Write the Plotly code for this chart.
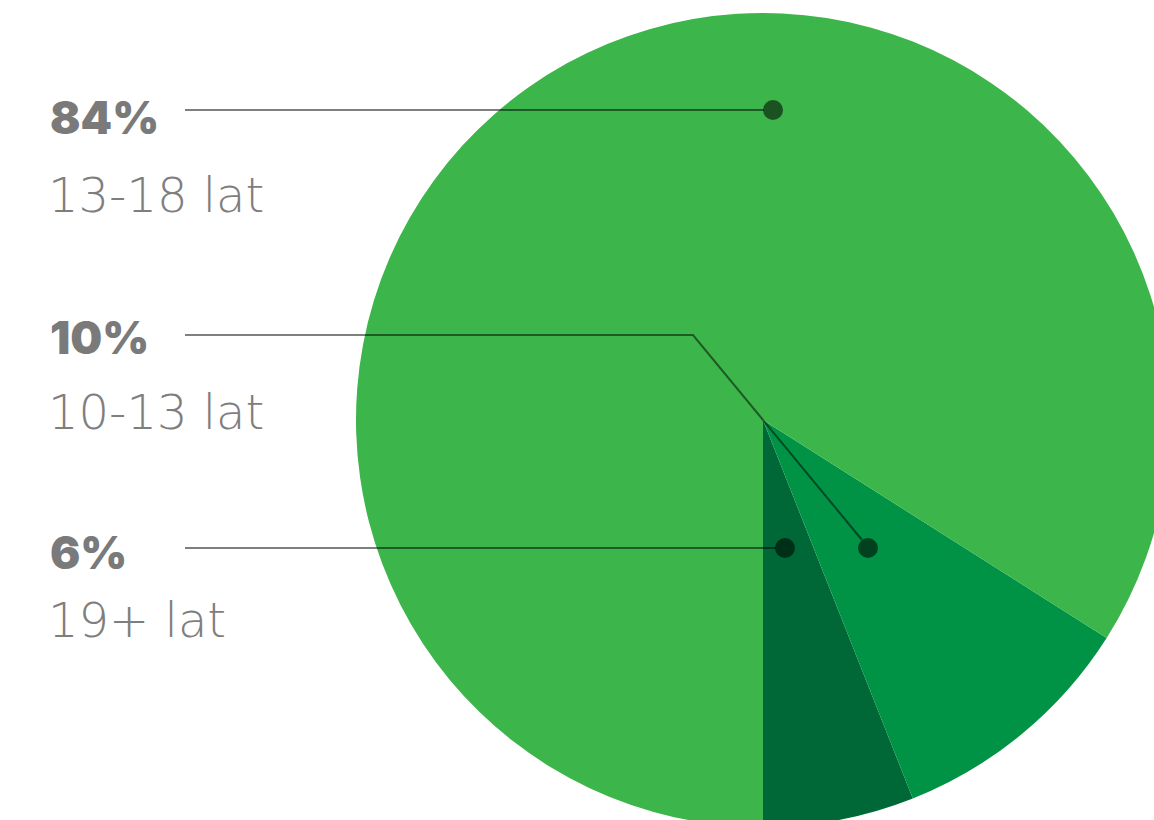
import plotly.graph_objects as go

# Age groups, listed in the order they are drawn (counterclockwise from 6 o'clock)
groups = ["19+ lat", "10-13 lat", "13-18 lat"]
shares = [6, 10, 84]
slice_colors = ["#006837", "#009245", "#3cb54a"]

# Canvas is slightly larger than the viewport so the disc runs off the right/bottom edge
W, H = 1180, 830
CX, CY, R = 763, 420, 407

# plotly starts a counterclockwise pie one slice past `rotation`, so back it off
# by the first slice's angle to make the first slice begin exactly at 6 o'clock
first_angle = 360.0 * shares[0] / sum(shares)

fig = go.Figure()

fig.add_trace(go.Pie(
    labels=groups,
    values=shares,
    sort=False,
    direction="counterclockwise",
    rotation=180 - first_angle,
    marker=dict(colors=slice_colors, line=dict(width=0)),
    textinfo="none",
    hoverinfo="label+percent",
    showlegend=False,
    domain=dict(x=[(CX - R) / W, (CX + R) / W],
                y=[(H - CY - R) / H, (H - CY + R) / H]),
))

# Hidden pixel-space axes used to place the callouts
fig.update_xaxes(visible=False, range=[0, W], domain=[0, 1], fixedrange=True)
fig.update_yaxes(visible=False, range=[H, 0], domain=[0, 1], fixedrange=True)

line_col = "rgba(0,0,0,0.5)"
dot_col = "rgba(0,0,0,0.55)"

# callout: percent text, group text, their y positions, leader path, dot position
callouts = [
    ("84%", "13-18 lat", 117, 195, "M 185 110 L 764 110", (773, 110)),
    ("10%", "10-13 lat", 337, 412, "M 185 335 L 693 335 L 862 540", (868, 548)),
    ("6%", "19+ lat", 552, 620, "M 185 548 L 776 548", (785, 548)),
]

for pct, grp, y_pct, y_grp, path, (dx, dy) in callouts:
    fig.add_shape(type="path", path=path, xref="x", yref="y",
                  line=dict(color=line_col, width=2), layer="above")
    fig.add_shape(type="circle", xref="x", yref="y",
                  x0=dx - 10, x1=dx + 10, y0=dy - 10, y1=dy + 10,
                  fillcolor=dot_col, line=dict(width=0), layer="above")
    fig.add_annotation(x=48, y=y_pct, xref="x", yref="y", text=pct,
                       showarrow=False, xanchor="left", yanchor="middle",
                       font=dict(family="Inter", size=45, color="#7a7a7a", weight=900))
    fig.add_annotation(x=46, y=y_grp, xref="x", yref="y", text=grp,
                       showarrow=False, xanchor="left", yanchor="middle",
                       font=dict(family="DejaVu Sans", size=48, color="#7e7e7e", weight=200))

fig.update_layout(
    width=W, height=H,
    margin=dict(l=0, r=0, t=0, b=0),
    paper_bgcolor="white",
    plot_bgcolor="rgba(0,0,0,0)",
)

fig.write_html(
    "out.html",
    config={"displayModeBar": False},
    post_script="document.documentElement.style.overflow='hidden';document.body.style.overflow='hidden';document.body.style.margin='0';",
)
